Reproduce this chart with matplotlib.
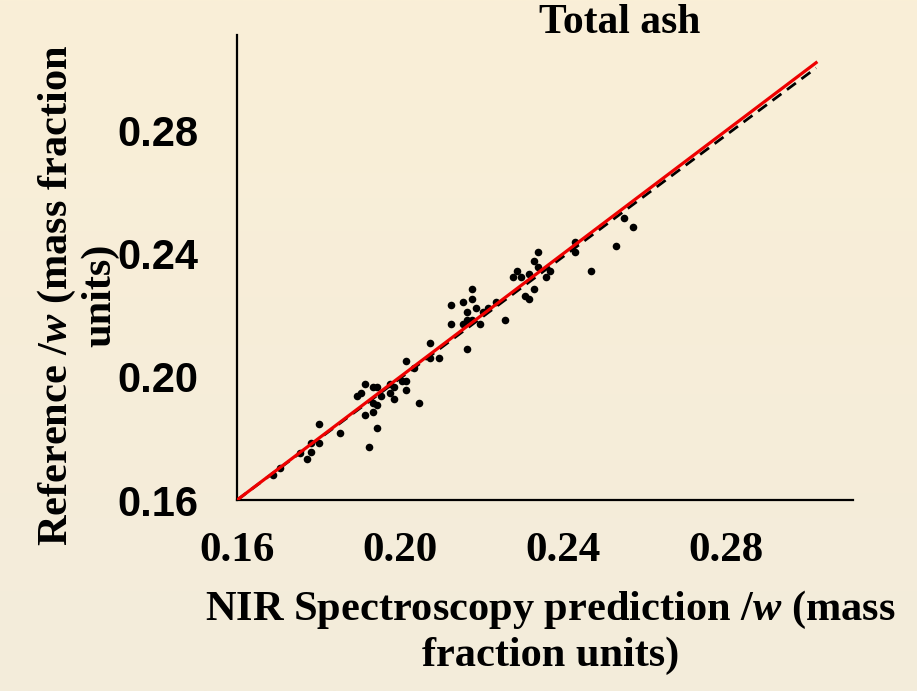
import numpy as np
import matplotlib.pyplot as plt

# NIR-predicted vs. reference total ash (mass fraction)
predicted = [0.2570, 0.2529, 0.2469, 0.2428, 0.2428, 0.2550, 0.2338, 0.2327,
             0.2338, 0.2317, 0.2286, 0.2277, 0.2297, 0.2368, 0.2358, 0.2327,
             0.2307, 0.2317, 0.2256, 0.2236, 0.2215, 0.2204, 0.2177, 0.2177,
             0.2155, 0.2187, 0.2165, 0.2125, 0.2125, 0.2155, 0.2165, 0.2175,
             0.2196, 0.2165, 0.2074, 0.2074, 0.2095, 0.2034, 0.2014, 0.2014,
             0.2014, 0.2004, 0.1984, 0.1974, 0.1974, 0.1984, 0.2045, 0.1953,
             0.1943, 0.1933, 0.1913, 0.1903, 0.1893, 0.1943, 0.1933, 0.1933,
             0.1913, 0.1943, 0.1924, 0.1853, 0.1801, 0.1801, 0.1782, 0.1782,
             0.1772, 0.1755, 0.1687, 0.1706]
reference = [0.2487, 0.2426, 0.2345, 0.2437, 0.2406, 0.2517, 0.2406, 0.2375,
             0.2355, 0.2335, 0.2345, 0.2324, 0.2324, 0.2345, 0.2324, 0.2284,
             0.2263, 0.2253, 0.2183, 0.2244, 0.2223, 0.2212, 0.2284, 0.2253,
             0.2244, 0.2223, 0.2212, 0.2233, 0.2171, 0.2171, 0.2183, 0.2183,
             0.2171, 0.2090, 0.2110, 0.2060, 0.2060, 0.2029, 0.2050, 0.1988,
             0.1958, 0.1988, 0.1968, 0.1977, 0.1948, 0.1927, 0.1916, 0.1937,
             0.1968, 0.1968, 0.1977, 0.1948, 0.1937, 0.1908, 0.1916, 0.1886,
             0.1876, 0.1835, 0.1773, 0.1816, 0.1846, 0.1785, 0.1785, 0.1755,
             0.1733, 0.1752, 0.1681, 0.1704]

# 1:1 line and fitted regression line
line_x = [0.16, 0.302]
fit_slope = 0.988
fit_intercept = 0.16 * (1 - fit_slope)

xticks = [0.16, 0.20, 0.24, 0.28]
yticks = [0.16, 0.20, 0.24, 0.28]

plt.rcParams['mathtext.fontset'] = 'custom'
plt.rcParams['mathtext.it'] = 'Liberation Serif:italic:bold'
plt.rcParams['mathtext.rm'] = 'Liberation Serif:bold'

fig = plt.figure(figsize=(9.17, 6.91), dpi=100)

# soft beige backdrop
bg = fig.add_axes([0, 0, 1, 1], zorder=-10)
grad = np.linspace(0, 1, 256).reshape(-1, 1)
top = np.array([250, 239, 215]) / 255
bottom = np.array([243, 236, 219]) / 255
img = top * (1 - grad[..., None]) + bottom * grad[..., None]
bg.imshow(img, aspect='auto', extent=[0, 1, 0, 1])
bg.axis('off')

ax = fig.add_axes([0.2585, 0.2764, 0.6715, 0.673])
ax.patch.set_alpha(0)

ax.scatter(predicted, reference, s=30, color='black', zorder=3, linewidths=0)
ax.plot(line_x, [fit_intercept + fit_slope * v for v in line_x],
        color='black', lw=2, ls=(0, (4, 2.5)), zorder=2)
ax.plot(line_x, line_x, color='#ee0000', lw=2.3, zorder=4)

ax.set_xlim(0.16, 0.311)
ax.set_ylim(0.16, 0.311)
for s in ['top', 'right']:
    ax.spines[s].set_visible(False)
for s in ['left', 'bottom']:
    ax.spines[s].set_linewidth(1.6)
    ax.spines[s].set_color('black')

ax.set_xticks(xticks)
ax.set_yticks(yticks)
ax.set_xticklabels([f"{v:.2f}" for v in xticks], family='Liberation Serif',
                   fontweight='bold', fontsize=31)
ax.set_yticklabels([f"{v:.2f}" for v in yticks], family='Liberation Sans',
                   fontweight='bold', fontsize=30)
ax.tick_params(axis='x', length=0, pad=23)
ax.tick_params(axis='y', length=0, pad=28)

fig.text(0.676, 0.966, "Total ash", family='Liberation Serif',
         fontweight='bold', fontsize=30, ha='center', va='center')

fig.text(0.6, 0.085, "NIR Spectroscopy prediction /$w$ (mass\nfraction units)",
         family='Liberation Serif', fontweight='bold', fontsize=30.5,
         ha='center', va='center', linespacing=1.2)
fig.text(0.085, 0.572, "Reference /$w$ (mass fraction\nunits)",
         family='Liberation Serif', fontweight='bold', fontsize=30.5,
         ha='center', va='center', rotation=90, linespacing=1.1)

fig.savefig("out.png", dpi=100)
